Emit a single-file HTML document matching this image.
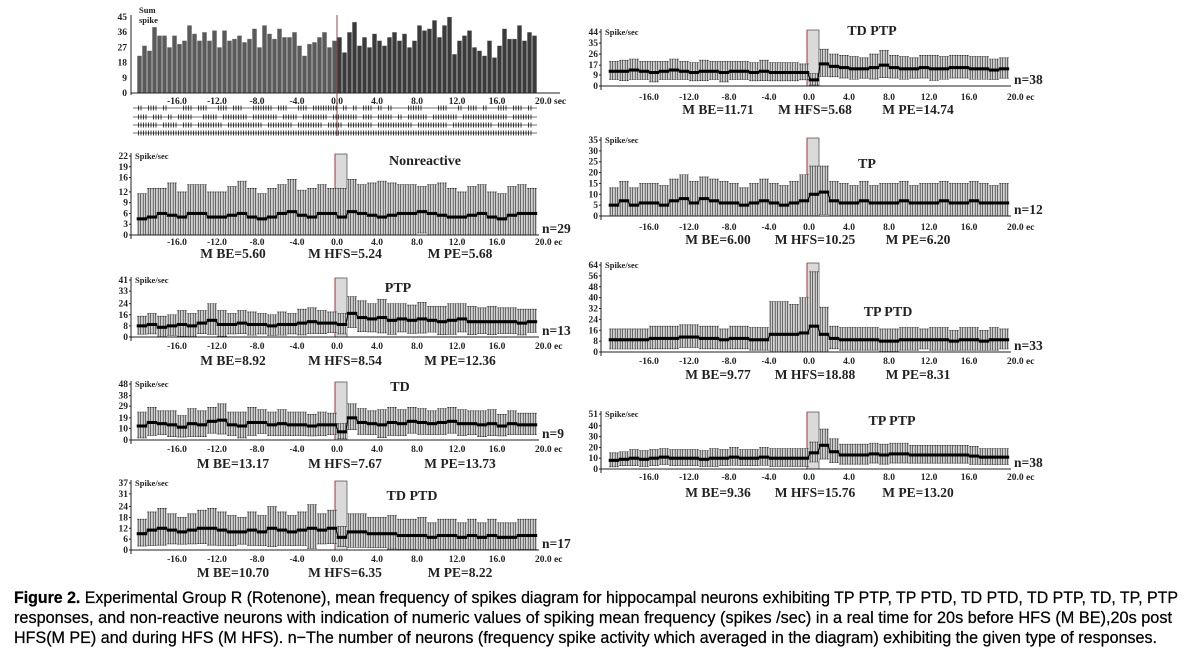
<!DOCTYPE html>
<html><head><meta charset="utf-8">
<style>
html,body{margin:0;padding:0;background:#fff;}
svg{display:block;}
.tk{font-family:"Liberation Serif",serif;font-weight:bold;font-size:9.5px;fill:#222;}
.sm{font-family:"Liberation Serif",serif;font-weight:bold;font-size:8.5px;fill:#222;}
.ml{font-family:"Liberation Serif",serif;font-weight:bold;font-size:13.5px;fill:#222;}
.tt{font-family:"Liberation Serif",serif;font-weight:bold;font-size:14px;fill:#222;}
.cap{font-family:"Liberation Sans",sans-serif;font-size:17px;fill:#000;stroke:#000;stroke-width:0.25px;}
</style></head>
<body>
<svg id="fig" width="1193" height="657" viewBox="0 0 1193 657">
<g id="charts"></g>
<g>
<text class="cap" x="14" y="603" textLength="1164" lengthAdjust="spacingAndGlyphs"><tspan font-weight="bold">Figure 2.</tspan> Experimental Group R (Rotenone), mean frequency of spikes diagram for hippocampal neurons exhibiting TP PTP, TP PTD, TD PTD, TD PTP, TD, TP, PTP</text>
<text class="cap" x="14" y="623" textLength="1158" lengthAdjust="spacingAndGlyphs">responses, and non-reactive neurons with indication of numeric values of spiking mean frequency (spikes /sec) in a real time for 20s before HFS (M BE),20s post</text>
<text class="cap" x="14" y="643" textLength="1143" lengthAdjust="spacingAndGlyphs">HFS(M PE) and during HFS (M HFS). n−The number of neurons (frequency spike activity which averaged in the diagram) exhibiting the given type of responses.</text>
</g>
</svg>
<script>
// ---------- DATA ----------
const timeTicks = [-16, -12, -8, -4, 0, 4, 8, 12, 16, 20];
const sumSpikeTicks = [0, 9, 18, 27, 36, 45];
const sumSpike = [22,28,25,39,34,34,27,34,29,31,40,35,31,36,31,37,27,37,31,32,34,30,32,38,27,40,35,32,38,33,33,36,28,22,29,30,33,36,27,31,
                  33,24,36,42,28,33,27,35,31,28,33,36,31,35,27,31,40,37,38,43,33,40,45,23,31,34,37,27,25,22,31,21,28,38,32,32,40,31,36,34];
const raster1 = "1011010001101100110110011110110011011111010101101010001110001100101101001101101";
const raster2 = "1101101011100111011111011111011101111101111101101110101111011111011111111101111";
const raster3 = "1111011101101111101111111011111011111011101111101111111011111101111111101111101";
const raster4 = "1111111111111111111111111111111111111111111111111111111111111111111111111111111";

const nrTicks = [0, 3, 6, 9, 12, 16, 19, 22];
const nrMean = [4.5,5,6,5.5,5,6,6,5,5,5.5,6,5,4.5,5,6,6.5,5.5,5,6,6, 5,6.5,6,5.5,5,5.5,6,6,6.5,6,5.5,5,5,5.5,6,5,4.5,5.5,6,6];
const nrErr  = [7,8,7,9,7,8,8,7,7,8,9,8,7,8,8,9,7,8,8,7, 8,9,8,9,10,9,8,8,7,8,9,8,7,8,8,7,7,8,8,7];

const ptpTicks = [0, 8, 16, 24, 33, 41];
const ptpMean = [8,9,7,8,9,8,10,12,9,9,10,9,9,8,9,9,10,11,10,10, 9,17,14,13,14,12,13,12,13,12,11,12,13,11,11,11,11,11,10,11];
const ptpErr  = [7,8,8,8,10,9,9,12,10,8,9,9,8,8,9,8,10,10,9,8, 8,12,12,11,13,12,11,11,12,10,11,12,11,11,10,11,10,10,10,9];

const tdTicks = [0, 10, 19, 29, 38, 48];
const tdMean = [12,15,14,13,11,14,13,16,17,13,12,15,15,13,14,13,13,12,13,13, 7,19,15,14,13,15,14,16,15,14,15,16,14,14,13,14,12,14,13,13];
const tdErr  = [12,13,11,12,10,13,12,12,14,11,12,13,11,11,12,11,11,10,11,10, 7,12,12,11,13,13,12,12,12,11,12,12,12,11,12,12,10,11,10,10];

const tdptdTicks = [0, 6, 12, 18, 24, 31, 37];
const tdptdMean = [9,11,12,11,10,11,12,12,11,10,10,11,10,12,11,10,11,12,11,12, 7,10,10,9,9,9,8,8,8,7,8,8,7,8,7,8,7,7,8,8];
const tdptdErr  = [8,10,11,9,8,9,10,11,10,9,8,10,9,12,10,9,10,13,9,10, 6,10,10,9,9,10,9,9,10,8,9,9,8,9,8,9,8,8,9,9];

const tdptpTicks = [0, 9, 17, 26, 35, 44];
const tdptpMean = [12,12,13,12,11,12,13,12,11,12,12,11,12,12,11,12,11,11,11,11, 5,18,16,15,14,14,15,17,15,14,14,15,14,14,15,15,14,14,13,14];
const tdptpErr  = [8,9,9,8,9,8,9,8,8,9,8,9,8,8,8,9,8,8,8,7, 5,12,10,10,10,9,11,12,10,10,9,10,11,10,10,10,10,10,9,9];

const tpTicks = [0, 5, 10, 15, 20, 25, 30, 35];
const tpMean = [5,7,5,6,6,5,7,8,6,8,7,6,6,5,6,7,6,5,6,7, 10,11,7,6,6,7,6,6,6,7,6,6,6,7,6,6,7,6,6,6];
const tpErr  = [8,9,8,9,9,9,10,11,10,10,10,10,9,8,9,10,9,9,10,12, 13,12,9,9,8,9,8,9,9,9,8,9,9,9,9,9,9,9,8,9];

const tpptdTicks = [0, 8, 16, 24, 32, 40, 48, 56, 64];
const tpptdMean = [9,9,9,9,10,10,10,11,11,10,10,9,10,10,9,9,13,13,13,14, 19,13,10,9,9,9,9,8,8,9,9,9,9,9,8,9,9,8,9,9];
const tpptdErr  = [8,8,8,8,9,9,9,9,9,9,9,8,9,9,9,9,24,24,22,26, 40,20,9,9,9,9,9,9,9,9,9,8,9,9,8,9,9,8,9,8];

const tpptpTicks = [0, 10, 20, 30, 40, 51];
const tpptpMean = [8,9,10,9,10,11,10,10,10,9,10,10,11,10,10,11,10,10,10,10, 15,22,16,13,13,13,14,13,14,14,13,13,13,13,13,13,12,11,11,11];
const tpptpErr  = [7,7,8,8,8,8,8,8,8,8,9,8,9,8,8,9,9,9,9,9, 10,15,12,10,10,10,10,10,10,10,9,9,9,9,9,9,9,8,8,8];

// ---------- LAYOUT (positions, not data) ----------
const panels = [
 {key:'nonreactive', col:0, yTop:156, y0:235, yMax:22, ticks:nrTicks, mean:nrMean, err:nrErr, title:'Nonreactive', tx:425, ty:165, n:'n=29', lblY:245, mY:258, M:['M BE=5.60','M HFS=5.24','M PE=5.68']},
 {key:'ptp', col:0, yTop:280, y0:337, yMax:41, ticks:ptpTicks, mean:ptpMean, err:ptpErr, title:'PTP', tx:398, ty:292, n:'n=13', lblY:349, mY:365, M:['M BE=8.92','M HFS=8.54','M PE=12.36']},
 {key:'td', col:0, yTop:384, y0:440, yMax:48, ticks:tdTicks, mean:tdMean, err:tdErr, title:'TD', tx:400, ty:391, n:'n=9', lblY:452, mY:468, M:['M BE=13.17','M HFS=7.67','M PE=13.73']},
 {key:'td-ptd', col:0, yTop:483, y0:550, yMax:37, ticks:tdptdTicks, mean:tdptdMean, err:tdptdErr, title:'TD PTD', tx:412, ty:500, n:'n=17', lblY:562, mY:577, M:['M BE=10.70','M HFS=6.35','M PE=8.22']},
 {key:'td-ptp', col:1, yTop:32, y0:86, yMax:44, ticks:tdptpTicks, mean:tdptpMean, err:tdptpErr, title:'TD PTP', tx:872, ty:35, n:'n=38', lblY:100, mY:114, M:['M BE=11.71','M HFS=5.68','M PE=14.74']},
 {key:'tp', col:1, yTop:140, y0:216, yMax:35, ticks:tpTicks, mean:tpMean, err:tpErr, title:'TP', tx:867, ty:168, n:'n=12', lblY:230, mY:244, M:['M BE=6.00','M HFS=10.25','M PE=6.20']},
 {key:'tp-ptd', col:1, yTop:265, y0:352, yMax:64, ticks:tpptdTicks, mean:tpptdMean, err:tpptdErr, title:'TP PTD', tx:888, ty:316, n:'n=33', lblY:364, mY:379, M:['M BE=9.77','M HFS=18.88','M PE=8.31']},
 {key:'tp-ptp', col:1, yTop:414, y0:469, yMax:51, ticks:tpptpTicks, mean:tpptpMean, err:tpptpErr, title:'TP PTP', tx:892, ty:425, n:'n=38', lblY:480, mY:497, M:['M BE=9.36','M HFS=15.76','M PE=13.20']}
];
const cols = [{axis:131, zero:337, mx:[233,345,460]}, {axis:601, zero:809, mx:[718,815,918]}];
const PXS = 10;

const NS = 'http://www.w3.org/2000/svg';
const root = document.getElementById('charts');
function mk(parent, tag, attrs, txt){
  const e = document.createElementNS(NS, tag);
  for (const k in attrs) e.setAttribute(k, attrs[k]);
  if (txt !== undefined) e.textContent = txt;
  parent.appendChild(e);
  return e;
}

function xAxisFn(col){ return t => cols[col].zero + t * PXS; }

// ---------- PANELS ----------
panels.forEach(p => {
  const g = mk(root, 'g', {});
  
  
  const c = cols[p.col];
  const X = xAxisFn(p.col);
  const Y = v => p.y0 - (v / p.yMax) * (p.y0 - p.yTop);
  const hfs = mk(g, 'rect', {x:X(0)-2, y:p.yTop-2, width:12, height:p.y0-p.yTop+2, fill:'#dadada', stroke:'#444', 'stroke-width':0.7});
  
  
  const red = mk(g, 'line', {x1:X(0)-2, x2:X(0)-2, y1:p.yTop-2, y2:p.y0, stroke:'#a33', 'stroke-width':1});
  
  
  const pts = [];
  p.mean.forEach((m, i) => {
    const t = -20 + i;
    const xa = X(t), xb = X(t + 1);
    const hi = Y(m + p.err[i]), lo = Y(Math.max(m - p.err[i] * 0.85, 0));
    const r = mk(g, 'rect', {x:xa, y:hi, width:xb-xa, height:lo-hi, fill:'#cfcfcf'});
    
    
    for (let k = 0; k < 4; k++) {
      const xx = xa + 1.2 + k * 2.5;
      const eb = mk(g, 'path', {d:`M${xx},${hi}V${lo}M${xx-1},${hi}H${xx+1}M${xx-1},${lo}H${xx+1}`, stroke:'#222', 'stroke-width':0.6, fill:'none'});
      
      
      pts.push([xx, Y(m)]);
    }
  });
  const ln = mk(g, 'polyline', {points:pts.map(q => q.join(',')).join(' '), fill:'none', stroke:'#000', 'stroke-width':1.2});
  
  
  pts.forEach(q => {
    const s = mk(g, 'rect', {x:q[0]-1.5, y:q[1]-1.5, width:3, height:3, fill:'#000'});
    
    
  });
  const ya = mk(g, 'line', {x1:c.axis, x2:c.axis, y1:p.yTop-3, y2:p.y0+4, stroke:'#222', 'stroke-width':1});
  
  
  const xa = mk(g, 'line', {x1:c.axis, x2:X(20)+2, y1:p.y0, y2:p.y0, stroke:'#222', 'stroke-width':1});
  
  
  p.ticks.forEach(v => {
    const tl = mk(g, 'text', {class:'tk', x:c.axis-3, y:Y(v)+3, 'text-anchor':'end'}, String(v));
    
    
    const tm = mk(g, 'line', {x1:c.axis-2, x2:c.axis, y1:Y(v), y2:Y(v), stroke:'#222'});
    
    
  });
  const yl = mk(g, 'text', {class:'sm', x:c.axis+4, y:p.yTop+3}, 'Spike/sec');
  
  
  timeTicks.forEach(t => {
    const lab = t === 20 ? '20.0 ec' : t.toFixed(1);
    const xl = mk(g, 'text', {class:'tk', x: t === 20 ? X(t)-2 : X(t), y:p.lblY, 'text-anchor': t === 20 ? 'start' : 'middle'}, lab);
    
    
  });
  const tt = mk(g, 'text', {class:'tt', x:p.tx, y:p.ty, 'text-anchor':'middle'}, p.title);
  
  
  const nn = mk(g, 'text', {class:'ml', x:X(20)+5, y:p.y0-2, 'font-size':'11px'}, p.n);
  
  
  p.M.forEach((s, i) => {
    const mt = mk(g, 'text', {class:'ml', x:c.mx[i], y:p.mY, 'text-anchor':'middle'}, s);
    
    
  });
});

// ---------- SUM SPIKE HISTOGRAM ----------
(function(){
  const g = mk(root, 'g', {});
  
  
  const X = xAxisFn(0);
  const yTop = 17, y0 = 93, yMax = 45;
  const Y = v => y0 - (v / yMax) * (y0 - yTop);
  sumSpike.forEach((v, i) => {
    const t = -20 + i * 0.5;
    const b = mk(g, 'rect', {x:X(t)+0.3, y:Y(v), width:PXS*0.5-0.6, height:y0-Y(v), fill: t < 0 ? '#5a5a5a' : '#3a3a3a', stroke:'#bbb', 'stroke-width':0.3});
    
    
  });
  const ya = mk(g, 'line', {x1:131, x2:131, y1:15, y2:95, stroke:'#222'});
  
  
  const xa = mk(g, 'line', {x1:131, x2:560, y1:y0, y2:y0, stroke:'#222'});
  
  
  const hl = mk(g, 'line', {x1:X(0), x2:X(0), y1:15, y2:136, stroke:'#8a4a4a', 'stroke-width':1});
  
  
  sumSpikeTicks.forEach(v => {
    const tl = mk(g, 'text', {class:'tk', x:127, y:Y(v)+3, 'text-anchor':'end'}, String(v));
    
    
  });
  const s1 = mk(g, 'text', {class:'sm', x:139, y:13}, 'Sum');
  
  
  const s2 = mk(g, 'text', {class:'sm', x:139, y:23}, 'spike');
  
  
  timeTicks.forEach(t => {
    const lab = t === 20 ? '20.0 sec' : t.toFixed(1);
    const xl = mk(g, 'text', {class:'tk', x: t === 20 ? X(t)-2 : X(t), y:104, 'text-anchor': t === 20 ? 'start' : 'middle'}, lab);
    
    
  });
  [raster1, raster2, raster3, raster4].forEach((r, ri) => {
    const yy = [108, 117, 125, 133][ri];
    const bl = mk(g, 'line', {x1:133, x2:X(20), y1:yy, y2:yy, stroke:'#444', 'stroke-width':0.8});
    
    
    let d = '';
    for (let i = 0; i < r.length; i++) if (r[i] === '1') {
      const xx = X(-20 + i * 0.5) + 1.5;
      d += `M${xx},${yy-2.5}V${yy+2.5}M${xx+2.5},${yy-2.5}V${yy+2.5}`;
    }
    const sp = mk(g, 'path', {d:d, stroke:'#111', 'stroke-width':0.8});
    
    
  });
})();
</script>
</body></html>
